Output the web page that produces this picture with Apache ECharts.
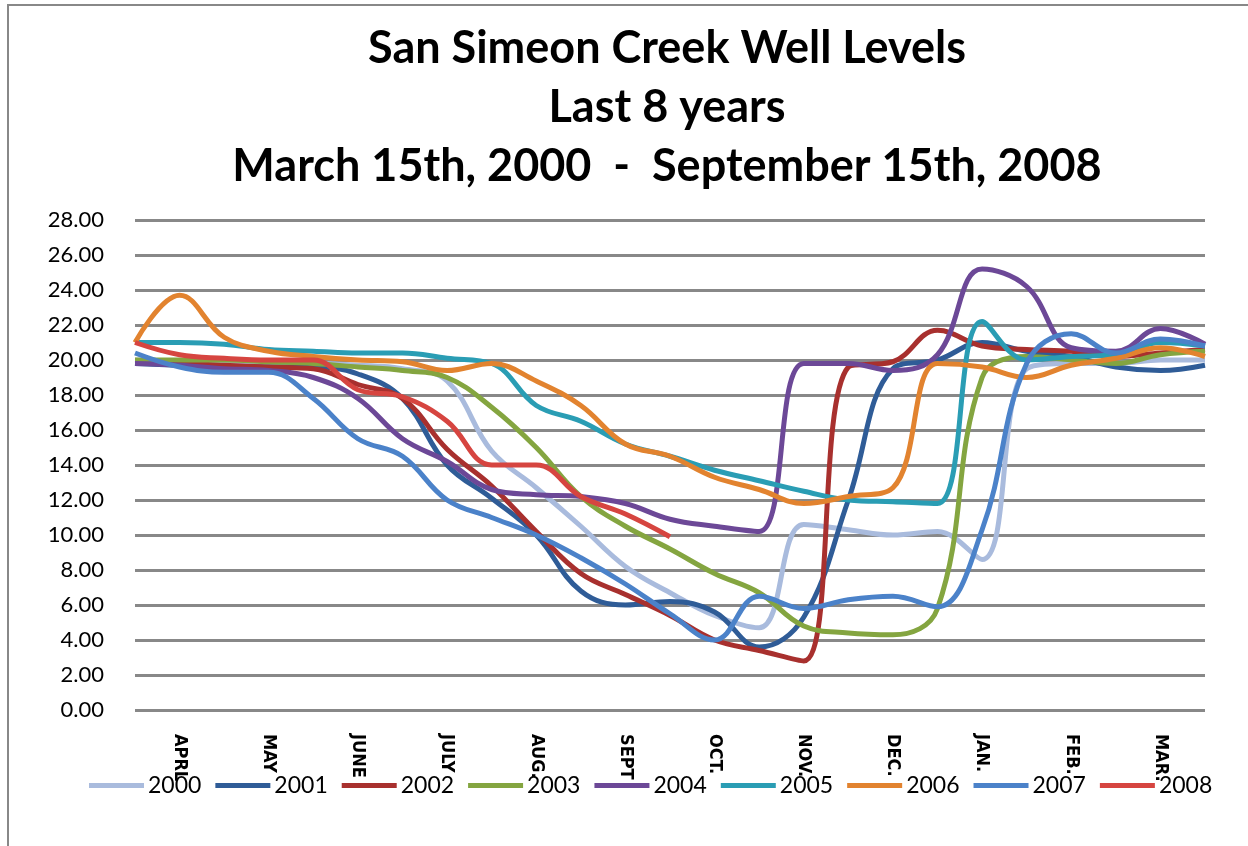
<!DOCTYPE html>
<html>
<head>
<meta charset="utf-8">
<title>San Simeon Creek Well Levels</title>
<script src="https://cdn.jsdelivr.net/npm/echarts@6/dist/echarts.min.js"></script>
<style>
    html, body { margin: 0; padding: 0; background: #fff; }
    #main { width: 1248px; height: 846px; }
</style>
</head>
<body>
<div id="main"></div>
<script>
// readings every half month, Mar 15 -> Mar 15 (25 points)
let months = ['APRL', 'MAY', 'JUNE', 'JULY', 'AUG.', 'SEPT', 'OCT.', 'NOV.', 'DEC.', 'JAN.', 'FEB.', 'MAR.'];
let years = ['2000', '2001', '2002', '2003', '2004', '2005', '2006', '2007', '2008'];
let yTicks = [0, 28, 2];

let y2000 = [20.0, 19.9, 19.9, 19.8, 19.8, 19.7, 19.5, 18.8, 14.8, 12.7, 10.5, 8.2, 6.7, 5.4, 4.7, 10.6, 10.3, 10.0, 10.2, 8.6, 19.5, 19.8, 19.8, 20.0, 20.0];
let y2001 = [19.8, 19.7, 19.6, 19.6, 19.6, 19.2, 17.8, 14.0, 12.1, 10.0, 6.8, 6.0, 6.2, 5.6, 3.6, 5.3, 12.0, 19.5, 20.0, 21.0, 20.5, 20.2, 19.6, 19.4, 19.7];
let y2002 = [19.8, 19.8, 19.7, 19.6, 19.5, 18.6, 17.8, 14.9, 12.8, 10.2, 7.8, 6.6, 5.4, 4.0, 3.4, 2.8, 19.6, 19.9, 21.7, 20.8, 20.6, 20.5, 20.2, 20.4, 20.6];
let y2003 = [20.0, 20.0, 20.0, 19.9, 19.8, 19.6, 19.4, 19.0, 17.3, 15.0, 12.2, 10.5, 9.2, 7.8, 6.7, 4.8, 4.4, 4.3, 5.8, 19.0, 20.2, 20.0, 19.8, 20.3, 20.5];
let y2004 = [19.8, 19.7, 19.5, 19.4, 19.0, 17.8, 15.5, 14.2, 12.6, 12.3, 12.2, 11.8, 10.9, 10.5, 10.2, 19.8, 19.8, 19.4, 20.3, 25.2, 24.2, 20.7, 20.5, 21.8, 20.9];
let y2005 = [21.0, 21.0, 20.9, 20.6, 20.5, 20.4, 20.4, 20.1, 19.8, 17.4, 16.5, 15.2, 14.5, 13.7, 13.1, 12.5, 12.0, 11.9, 11.8, 22.2, 20.0, 20.2, 20.3, 21.0, 20.8];
let y2006 = [21.0, 23.7, 21.3, 20.5, 20.2, 20.0, 19.9, 19.4, 19.8, 18.8, 17.4, 15.2, 14.5, 13.3, 12.6, 11.8, 12.2, 12.7, 19.8, 19.6, 19.0, 19.7, 20.1, 20.7, 20.2];
let y2007 = [20.4, 19.6, 19.3, 19.3, 17.8, 15.5, 14.5, 12.0, 11.0, 10.0, 8.7, 7.2, 5.5, 4.0, 6.5, 5.8, 6.3, 6.5, 5.9, 10.3, 19.8, 21.5, 20.4, 21.2, 20.8];
let y2008 = [21.0, 20.3, 20.1, 20.0, 20.0, 18.3, 17.9, 16.5, 14.0, 14.0, 12.2, 11.2, 9.9];

let colors = ['#a9bbdd', '#2f5c97', '#a8302e', '#84a540', '#6c4897', '#2a9db4', '#e2832f', '#4b82c9', '#d64540'];

// category list: '' at the 15th of each month, label at the 1st
let cats = [''];
months.forEach(function (m) {
    cats.push(m);
    cats.push('');
});

let allData = [y2000, y2001, y2002, y2003, y2004, y2005, y2006, y2007, y2008];
let seriesList = years.map(function (yr, i) {
    return {
        name: yr,
        type: 'line',
        data: allData[i],
        smooth: 0.4,
        symbol: 'none',
        lineStyle: {width: 5, color: colors[i]},
        itemStyle: {color: colors[i]}
    };
});

let narrow = "'Liberation Sans Narrow', 'DejaVu Sans Condensed', Lato";

let myChart = echarts.init(document.getElementById('main'));
let option = {
    animation: false,
    title: {
        text: 'San Simeon Creek Well Levels\nLast 8 years\nMarch 15th, 2000  -  September 15th, 2008',
        left: 662,
        top: 14,
        textAlign: 'center',
        textStyle: {
            fontFamily: 'Lato',
            fontSize: 45,
            fontWeight: 'bold',
            lineHeight: 59,
            color: '#000'
        }
    },
    graphic: [{
        type: 'rect',
        shape: {x: 8, y: 5, width: 1300, height: 900},
        style: {fill: 'none', stroke: '#888', lineWidth: 2},
        silent: true
    }],
    legend: {
        data: years,
        left: 84,
        top: 769,
        icon: 'rect',
        itemWidth: 55,
        itemHeight: 5,
        itemGap: 14,
        textStyle: {fontFamily: 'Lato', fontSize: 23, color: '#000', padding: [0, 0, 0, -1]}
    },
    grid: {left: 135, right: 43, top: 220, bottom: 136},
    xAxis: {
        type: 'category',
        data: cats,
        boundaryGap: false,
        axisLine: {show: false},
        axisTick: {show: false},
        axisLabel: {
            interval: 0,
            rotate: -90,
            margin: 24,
            fontFamily: narrow,
            fontSize: 18,
            fontWeight: 'bold',
            color: '#000'
        }
    },
    yAxis: {
        type: 'value',
        min: yTicks[0],
        max: yTicks[1],
        interval: yTicks[2],
        axisLine: {show: false},
        axisTick: {show: false},
        axisLabel: {
            margin: 31,
            fontFamily: 'Lato',
            fontSize: 22,
            color: '#000',
            formatter: function (v) { return v.toFixed(2); }
        },
        splitLine: {lineStyle: {color: '#888', width: 3}}
    },
    series: seriesList
};
myChart.setOption(option);
</script>
</body>
</html>
